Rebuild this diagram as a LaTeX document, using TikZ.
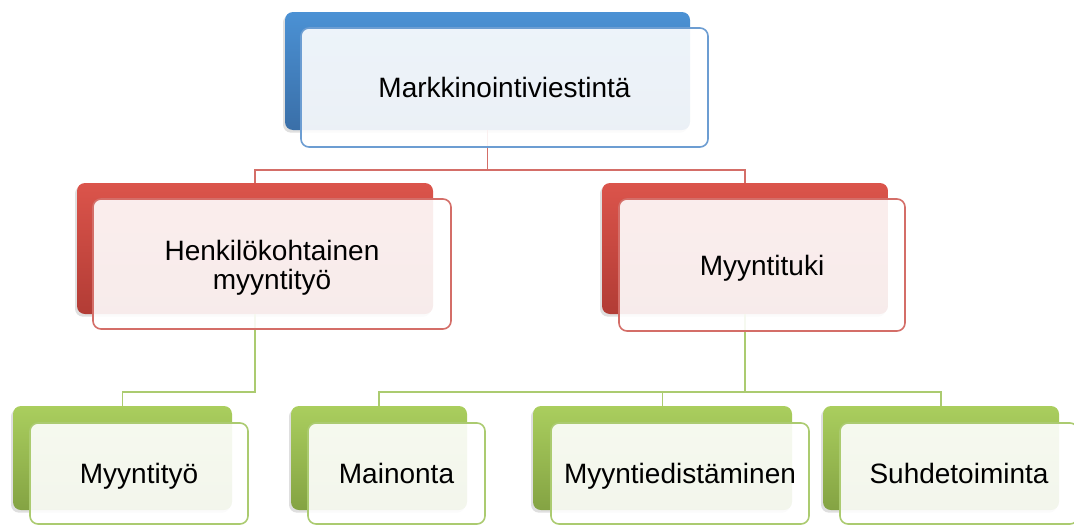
\documentclass[tikz,border=0pt]{standalone}
\usepackage{fontspec}
\setmainfont{Liberation Sans}
\usetikzlibrary{fit,shadows}

\definecolor{blueTop}{HTML}{4B91D4}
\definecolor{blueBot}{HTML}{3A6FA8}
\definecolor{blueLine}{HTML}{6C9DD2}
\definecolor{redTop}{HTML}{DB544B}
\definecolor{redBot}{HTML}{B23C35}
\definecolor{redLine}{HTML}{D46E68}
\definecolor{greenTop}{HTML}{AACE5E}
\definecolor{greenBot}{HTML}{84A343}
\definecolor{greenLine}{HTML}{ABCB70}

\begin{document}
\begin{tikzpicture}[x=0.75pt,y=-0.75pt,
  back/.style={rounded corners=6pt, inner sep=0pt, draw=none,
    drop shadow={opacity=0.25,shadow xshift=-1.5pt,shadow yshift=-2pt}},
  bluebox/.style={back, top color=blueTop, bottom color=blueBot},
  redbox/.style={back, top color=redTop, bottom color=redBot},
  greenbox/.style={back, top color=greenTop, bottom color=greenBot},
  front/.style={rounded corners=6pt, inner sep=0pt, fill=white, fill opacity=0.9,
    line width=1.2pt},
  bluefront/.style={front, draw=blueLine},
  redfront/.style={front, draw=redLine},
  greenfront/.style={front, draw=greenLine},
  label/.style={inner sep=0pt, align=center, text height=15pt, text depth=0pt,
    font=\fontsize{21}{22}\selectfont},
  redline/.style={draw=redLine, line width=1.4pt},
  greenline/.style={draw=greenLine, line width=1.4pt}]

\useasboundingbox (0,0) rectangle (1074,525);

% back boxes
\node[bluebox, fit={(285,12) (690,130)}] (mark) {};
\node[redbox, fit={(77,183) (433,314)}] (henk) {};
\node[redbox, fit={(602,183) (888,314)}] (tuki) {};
\node[greenbox, fit={(13,406) (232,510)}] (mtyo) {};
\node[greenbox, fit={(291,406) (467,510)}] (main) {};
\node[greenbox, fit={(533,406) (792,510)}] (medist) {};
\node[greenbox, fit={(823,406) (1059,510)}] (suhde) {};

% connectors
\draw[redline] (mark.south) -- ++(0,40) -| (henk.north);
\draw[redline] (mark.south) -- ++(0,40) -| (tuki.north);
\draw[greenline] (henk.south) -- ++(0,78) -| (mtyo.north);
\foreach \c in {main,medist,suhde}
  \draw[greenline] (tuki.south) -- ++(0,78) -| (\c.north);

% front boxes
\node[bluefront, fit={(301,28) (708,147)}] (markf) {};
\node[redfront, fit={(93,199) (451,329)}] (henkf) {};
\node[redfront, fit={(619,199) (905,331)}] (tukif) {};
\node[greenfront, fit={(30,423) (248,524)}] (mtyof) {};
\node[greenfront, fit={(308,423) (485,524)}] (mainf) {};
\node[greenfront, fit={(551,423) (809,524)}] (medistf) {};
\node[greenfront, fit={(840,423) (1078,524)}] (suhdef) {};

% texts
\node[label] (markt) at (markf.center) {Markkinointiviestintä};
\node[label, text height=, text depth=, yshift=-3pt] (henkt) at (henkf.center) {Henkilökohtainen\\myyntityö};
\node[label] (tukit) at (tukif.center) {Myyntituki};
\node[label] (mtyot) at (mtyof.center) {Myyntityö};
\node[label] (maint) at (mainf.center) {Mainonta};
\node[label] (medistt) at (medistf.center) {Myyntiedistäminen};
\node[label] (suhdet) at (suhdef.center) {Suhdetoiminta};

\end{tikzpicture}
\end{document}
